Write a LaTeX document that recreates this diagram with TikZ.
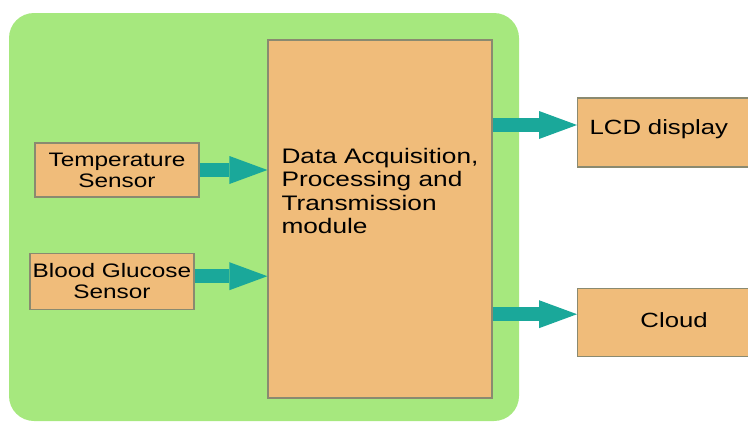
\documentclass[tikz,border=0pt]{standalone}
\usepackage{fontspec}
\newfontfamily\blockfont{Liberation Sans}[FakeStretch=1.25]
\usetikzlibrary{arrows.meta}
\usetikzlibrary{positioning}
\definecolor{boardgreen}{RGB}{166,232,126}
\definecolor{blockfill}{RGB}{240,188,122}
\definecolor{blockline}{RGB}{138,138,112}
\definecolor{flowteal}{RGB}{26,168,154}

\begin{document}
\begin{tikzpicture}[x=1pt, y=-1pt, >={Triangle[length={38pt 0 0}, width={28pt 0 0}, line width=0pt]}]
\tikzstyle{block} = [draw=blockline, fill=blockfill, line width=1.2pt, inner sep=0pt]
\tikzstyle{flow} = [->, color=flowteal, line width=14pt]

\clip (0,0) rectangle (748,423);
\fill[boardgreen, rounded corners=25pt] (9,13) rectangle (519,421);

\node[block, minimum width=224pt, minimum height=358pt, align=left, text depth=56pt,
      font={\blockfont\fontsize{21}{23.3}\selectfont}] (dapt) at (380,219)
      {Data Acquisition,\\Processing and\\Transmission\\module};
\node[block, minimum width=164pt, minimum height=54pt, align=center,
      font={\blockfont\fontsize{19.5}{21}\selectfont}] (temp) at (117,170) {Temperature\\Sensor};
\node[block, minimum width=164pt, minimum height=56pt, align=center,
      font={\blockfont\fontsize{19.5}{21}\selectfont}] (gluc) [below=55pt of temp, xshift=-5pt] {Blood Glucose\\Sensor};
\node[block, minimum height=69pt, text width=169pt, inner xsep=12pt, align=left, text depth=10pt, anchor=west,
      font={\blockfont\fontsize{20.6}{23}\selectfont}] (lcd) at (577,132.5) {LCD display};
\node[block, minimum height=68pt, text width=169pt, inner xsep=12pt, align=center, text depth=5pt,
      font={\blockfont\fontsize{20.6}{23}\selectfont}] (cloud) [below=120pt of lcd] {Cloud};

\draw[flow] (temp.east) -- (temp.east -| dapt.west);
\draw[flow] ([yshift=5pt]gluc.east) -- ([yshift=5pt]gluc.east -| dapt.west);
\draw[flow] ([yshift=7.5pt]lcd.west -| dapt.east) -- ([yshift=7.5pt]lcd.west);
\draw[flow] ([yshift=8pt]cloud.west -| dapt.east) -- ([yshift=8pt]cloud.west);

\end{tikzpicture}
\end{document}
